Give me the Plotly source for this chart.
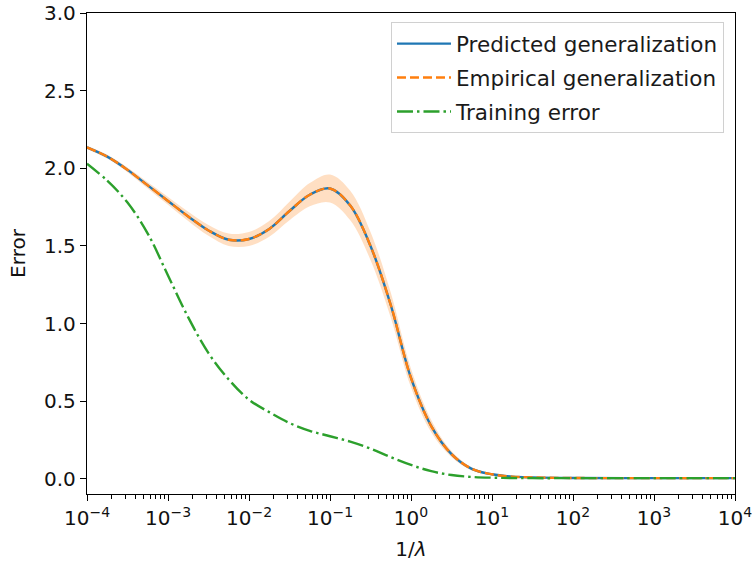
import plotly.graph_objects as go

# 1/lambda sample points (quarter-decade grid, then sparse on the flat tail)
inv_lambda = [1e-4, 1.778e-4, 3.162e-4, 5.623e-4,
              1e-3, 1.778e-3, 3.162e-3, 5.623e-3,
              1e-2, 1.778e-2, 3.162e-2, 5.623e-2,
              1e-1, 1.778e-1, 3.162e-1, 5.623e-1,
              1e0, 1.778e0, 3.162e0, 5.623e0,
              1e1, 1.778e1, 3.162e1, 1e2, 1e3, 1e4]

predicted_gen = [2.135, 2.075, 1.99, 1.89,
                 1.79, 1.69, 1.60, 1.54,
                 1.545, 1.61, 1.725, 1.83,
                 1.87, 1.76, 1.50, 1.12,
                 0.65, 0.34, 0.16, 0.065,
                 0.03, 0.015, 0.01, 0.006, 0.005, 0.005]

empirical_gen = [2.135, 2.075, 1.99, 1.89,
                 1.79, 1.69, 1.60, 1.54,
                 1.545, 1.61, 1.725, 1.83,
                 1.87, 1.76, 1.50, 1.12,
                 0.65, 0.34, 0.16, 0.065,
                 0.03, 0.015, 0.01, 0.006, 0.005, 0.005]

empirical_std = [0.01, 0.012, 0.015, 0.02,
                 0.025, 0.03, 0.035, 0.04,
                 0.045, 0.05, 0.06, 0.075,
                 0.09, 0.095, 0.09, 0.08,
                 0.06, 0.04, 0.02, 0.01,
                 0.006, 0.004, 0.003, 0.003, 0.003, 0.003]

training_err = [2.03, 1.92, 1.78, 1.58,
                1.31, 1.04, 0.81, 0.64,
                0.51, 0.43, 0.36, 0.31,
                0.275, 0.24, 0.195, 0.14,
                0.09, 0.05, 0.025, 0.013,
                0.008, 0.006, 0.005, 0.005, 0.005, 0.005]

x_tick_vals = [1e-4, 1e-3, 1e-2, 1e-1, 1e0, 1e1, 1e2, 1e3, 1e4]
x_tick_text = ["10<sup>\u22124</sup>", "10<sup>\u22123</sup>", "10<sup>\u22122</sup>",
               "10<sup>\u22121</sup>", "10<sup>0</sup>", "10<sup>1</sup>",
               "10<sup>2</sup>", "10<sup>3</sup>", "10<sup>4</sup>"]
y_tick_vals = [0.0, 0.5, 1.0, 1.5, 2.0, 2.5, 3.0]

minor_vals = [k * 10.0 ** e for e in range(-4, 4) for k in range(2, 10)]

BLUE = "#1f77b4"
ORANGE = "#ff7f0e"
GREEN = "#2ca02c"
LW = 2.4

upper = [m + s for m, s in zip(empirical_gen, empirical_std)]
lower = [m - s for m, s in zip(empirical_gen, empirical_std)]

fig = go.Figure()

# shaded +/- std band of the empirical generalization
fig.add_trace(go.Scatter(x=inv_lambda, y=upper, mode="lines",
                         line=dict(width=0, shape="spline", color=ORANGE),
                         showlegend=False, hoverinfo="skip"))
fig.add_trace(go.Scatter(x=inv_lambda, y=lower, mode="lines",
                         line=dict(width=0, shape="spline", color=ORANGE),
                         fill="tonexty", fillcolor="rgba(255,127,14,0.25)",
                         showlegend=False, hoverinfo="skip"))

fig.add_trace(go.Scatter(x=inv_lambda, y=predicted_gen, mode="lines",
                         name="Predicted generalization", legendgroup="a",
                         line=dict(color=BLUE, width=LW, shape="spline")))
fig.add_trace(go.Scatter(x=inv_lambda, y=empirical_gen, mode="lines",
                         name="Empirical generalization", legendgroup="b",
                         line=dict(color=ORANGE, width=LW, shape="spline",
                                   dash="9px,4px")))
fig.add_trace(go.Scatter(x=inv_lambda, y=training_err, mode="lines",
                         name="Training error", legendgroup="c",
                         line=dict(color=GREEN, width=LW, shape="spline",
                                   dash="16px,4px,2.5px,4px")))

axis_font = dict(family="DejaVu Sans", size=20, color="#111111")

fig.update_layout(
    width=752, height=565,
    margin=dict(l=87, r=17, t=13, b=71),
    plot_bgcolor="white", paper_bgcolor="white",
    font=axis_font,
    legend=dict(x=0.983, y=0.981, xanchor="right", yanchor="top",
                bgcolor="white", bordercolor="#d0d0d0", borderwidth=1,
                font=dict(family="DejaVu Sans", size=21.5, color="#1a1a1a"),
                itemwidth=54, tracegroupgap=3, traceorder="grouped"),
    xaxis=dict(type="log", range=[-4, 4], automargin=False,
               ticklabeloverflow="allow",
               tickmode="array", tickvals=x_tick_vals, ticktext=x_tick_text,
               ticks="outside", ticklen=6, tickwidth=1.2, tickcolor="black",
               minor=dict(tickmode="array", tickvals=minor_vals, ticks="outside",
                          ticklen=3.5, tickwidth=1, tickcolor="black", showgrid=False),
               showline=True, linecolor="black", linewidth=1.3, mirror=True,
               showgrid=False, zeroline=False,
               title=dict(text="1/<i>\u03bb</i>", font=axis_font, standoff=12),
               tickfont=axis_font),
    yaxis=dict(range=[-0.097, 3.0], automargin=False,
               ticklabeloverflow="allow",
               tickmode="array", tickvals=y_tick_vals, tickformat=".1f",
               ticks="outside", ticklen=6, tickwidth=1.2, tickcolor="black",
               showline=True, linecolor="black", linewidth=1.3, mirror=True,
               showgrid=False, zeroline=False,
               title=dict(text="Error", font=axis_font, standoff=13),
               tickfont=axis_font),
)

fig.write_html("out.html")
